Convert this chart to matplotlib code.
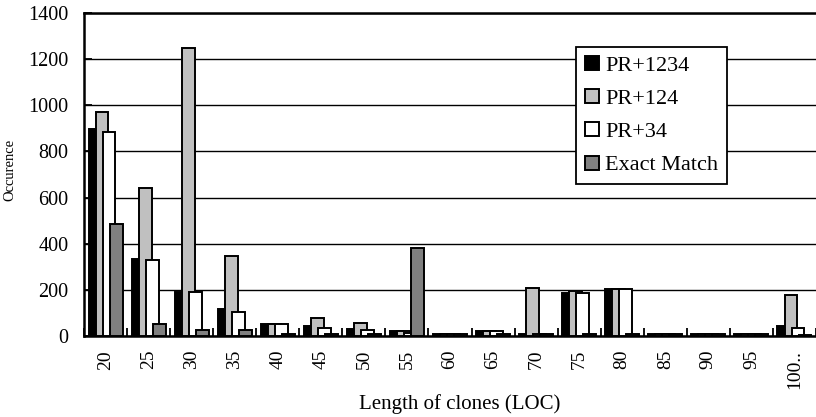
import matplotlib
matplotlib.use("Agg")
import matplotlib.pyplot as plt
import numpy as np

categories = ["20", "25", "30", "35", "40", "45", "50", "55", "60", "65",
              "70", "75", "80", "85", "90", "95", "100.."]
pr1234 = [896, 332, 192, 116, 53, 45, 30, 20, 8, 20, 10, 188, 202, 8, 8, 8, 43]
pr124 = [971, 640, 1247, 347, 53, 80, 55, 20, 8, 20, 210, 195, 202, 8, 8, 8, 178]
pr34 = [884, 329, 191, 104, 53, 35, 25, 15, 8, 20, 10, 188, 202, 8, 8, 8, 36]
exact = [487, 53, 25, 25, 10, 10, 10, 380, 8, 8, 10, 10, 10, 8, 8, 8, 4]

series = [("PR+1234", pr1234, "#000000"),
          ("PR+124", pr124, "#C0C0C0"),
          ("PR+34", pr34, "#FFFFFF"),
          ("Exact Match", exact, "#808080")]

plt.rcParams['font.family'] = ['Liberation Serif', 'DejaVu Serif']

fig = plt.figure(figsize=(8.16, 4.17), dpi=100)
ax = fig.add_axes([84/816, 1-336/417, (816-84)/816, (336-13)/417])

x = np.arange(len(categories))
w = 0.30
step = 0.163
for k, (name, vals, col) in enumerate(series):
    ax.bar(x + (k - 1.5) * step, vals, width=w, color=col, edgecolor="black",
           linewidth=1.4, label=name, zorder=3 + k)

ax.set_xlim(-0.5, len(categories) - 0.5)
ax.set_ylim(0, 1400)
ax.set_yticks(np.arange(0, 1401, 200))
ax.yaxis.grid(True, color="black", linewidth=1.0, zorder=0)
ax.set_axisbelow(True)

ax.set_xticks(x)
ax.set_xticklabels(categories, rotation=90, fontsize=14)
ax.set_xticks(np.arange(-0.5, len(categories) - 0.4, 1), minor=True)
ax.tick_params(axis='x', which='major', length=0, pad=10)
ax.tick_params(axis='x', which='minor', direction='in', length=6, width=1.3)
ax.tick_params(axis='y', direction='in', length=6, width=1.3, labelsize=14.5, pad=11)

for s in ["left", "bottom", "top"]:
    ax.spines[s].set_linewidth(1.8)
ax.spines["right"].set_visible(False)

ax.set_xlabel("Length of clones (LOC)", fontsize=15)
ax.xaxis.set_label_coords(0.513, -0.18)
ax.set_ylabel("Occurence", fontsize=10.5)
ax.yaxis.set_label_coords(-0.092, 0.515)

leg = ax.legend(loc="upper left", bbox_to_anchor=((576-84)/732, (336-47)/323),
                fontsize=16, frameon=True, fancybox=False, shadow=False,
                handlelength=0.65, handleheight=0.6, handletextpad=0.25,
                labelspacing=0.6, borderpad=0.4, borderaxespad=0)
leg.get_frame().set_edgecolor("black")
leg.get_frame().set_linewidth(1.3)
leg.get_frame().set_alpha(1)
leg.set_zorder(10)

fig.savefig("out.png", dpi=100)
